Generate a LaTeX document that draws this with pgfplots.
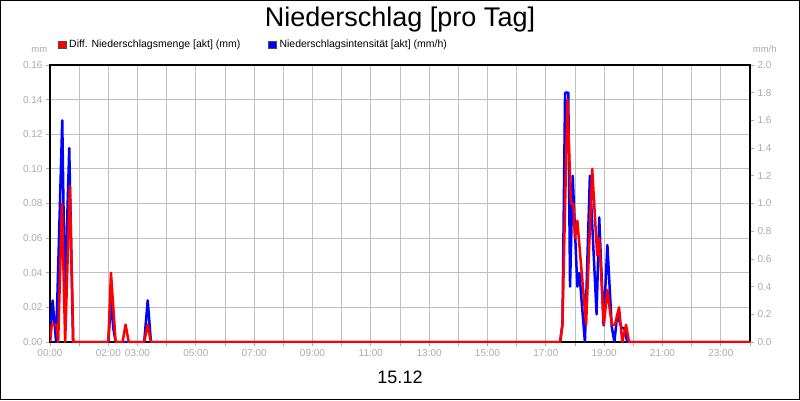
\documentclass[border=0pt]{standalone}
\usepackage{pgfplots}
\pgfplotsset{compat=1.18}
\usepackage{pgfplotstable}
\usepackage{fontspec}
\setmainfont{Liberation Sans}
\definecolor{tickgray}{RGB}{170,170,170}
\definecolor{gridgray}{RGB}{192,192,192}
\definecolor{myred}{RGB}{255,0,0}
\definecolor{myblue}{RGB}{0,0,255}

\pgfplotstableread{
h mm
0 0
0.06 0.01
0.22 0.01
0.28 0
0.41 0.08
0.52 0
0.68 0.09
0.80 0
2.00 0
2.09 0.04
2.25 0
2.49 0
2.59 0.01
2.70 0
3.23 0
3.35 0.01
3.46 0
17.49 0
17.57 0.01
17.74 0.14
17.86 0.08
17.94 0.08
18.00 0.06
18.08 0.07
18.38 0.01
18.59 0.10
18.76 0.05
18.83 0.06
18.99 0.01
19.11 0.03
19.26 0.01
19.37 0.01
19.51 0.02
19.62 0
19.75 0.01
19.85 0
24 0
}\redtable

\pgfplotstableread{
h mmh
0 0
0.09 0.3
0.21 0
0.42 1.6
0.51 0.3
0.66 1.4
0.79 0
2.00 0
2.09 0.3
2.17 0.1
2.25 0
3.23 0
3.35 0.3
3.46 0
17.49 0
17.57 0.13
17.66 1.8
17.77 1.8
17.83 0.4
17.92 1.2
18.08 0.4
18.15 0.5
18.34 0
18.51 1.2
18.74 0.2
18.83 0.9
18.98 0.12
19.11 0.7
19.26 0.11
19.35 0
19.45 0.2
19.60 0.1
19.69 0.1
19.79 0
24 0
}\bluetable

\begin{document}
\begin{tikzpicture}[x=1pt,y=1pt]
\useasboundingbox (0,0) rectangle (800,400);
\draw[black, line width=1pt] (0.5,0.5) rectangle (799.5,399.5);

\pgfplotsset{
  base/.style={
    at={(50pt,58pt)}, anchor=south west, scale only axis,
    width=700pt, height=277pt,
    xmin=0, xmax=24,
    /pgf/number format/assume math mode=true,
    tick label style={font=\fontsize{10}{12}\selectfont, text=tickgray},
    major tick length=4pt,
    tick align=outside,
    major tick style={draw=tickgray, line width=0.8pt},
  }
}

% grid + left axis + x axis
\begin{axis}[base,
  ymin=0, ymax=0.16,
  tick pos=left,
  xtick={0,1,...,24},
  xticklabels={00:00,,02:00,03:00,,05:00,,07:00,,09:00,,11:00,,13:00,,15:00,,17:00,,19:00,,21:00,,23:00,},
  ytick={0,0.02,0.04,0.06,0.08,0.10,0.12,0.14,0.16},
  yticklabel style={/pgf/number format/.cd, fixed, fixed zerofill, precision=2},
  xmajorgrids, ymajorgrids,
  major grid style={draw=gridgray, line width=1pt},
  axis line style={black, line width=1.5pt},
]
\addplot[draw=none, forget plot] coordinates {(0,0) (24,0)};
\end{axis}

% right axis, blue series
\begin{axis}[base,
  ymin=0, ymax=2,
  axis y line*=right, axis x line=none,
  ytick={0,0.2,0.4,0.6,0.8,1.0,1.2,1.4,1.6,1.8,2.0},
  yticklabel style={/pgf/number format/.cd, fixed, fixed zerofill, precision=1},
  axis line style={black, line width=1.5pt},
]
\addplot[myblue, line width=2.5pt, line join=round] table[x=h, y=mmh] {\bluetable};
\end{axis}

% left scale, red series on top
\begin{axis}[base,
  ymin=0, ymax=0.16,
  hide axis,
]
\addplot[myred, line width=2.5pt, line join=round] table[x=h, y=mm] {\redtable};
\end{axis}

% titles
\node[anchor=base, font=\fontsize{27}{30}\selectfont] at (400,373.3) {Niederschlag [pro Tag]};
\node[anchor=base, font=\fontsize{18}{20}\selectfont] at (400,16.7) {15.12};

% axis units
\node[anchor=base east, inner sep=0pt, text=tickgray, font=\fontsize{9.5}{11}\selectfont] at (47.5,347.3) {mm};
\node[anchor=base west, inner sep=0pt, text=tickgray, font=\fontsize{9.5}{11}\selectfont] at (752.7,347.3) {mm/h};

% legend
\filldraw[fill=myred, draw=black!70, line width=0.4pt] (58.3,351.7) rectangle (65.7,359);
\node[anchor=base west, inner sep=0pt, font=\fontsize{10.5}{12}\selectfont] at (69,352.3) {Diff. Niederschlagsmenge [akt] (mm)};
\filldraw[fill=myblue, draw=black!70, line width=0.4pt] (268.3,351.7) rectangle (275.7,359);
\node[anchor=base west, inner sep=0pt, font=\fontsize{10.5}{12}\selectfont] at (279.3,352.3) {Niederschlagsintensität [akt] (mm/h)};
\end{tikzpicture}
\end{document}
